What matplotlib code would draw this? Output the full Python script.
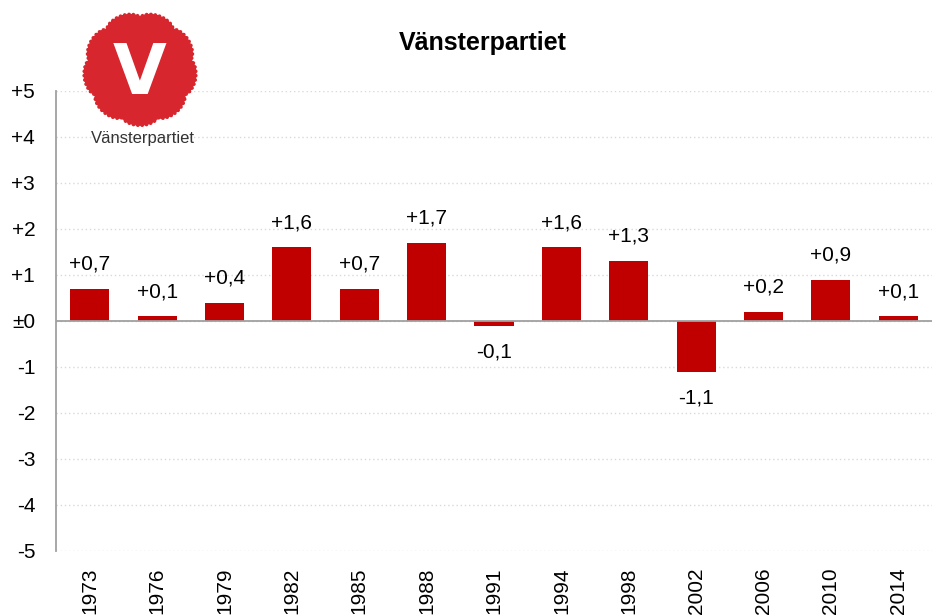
import matplotlib.pyplot as plt
import numpy as np
from matplotlib.patches import Polygon

plt.rcParams['font.family'] = ['Liberation Sans', 'DejaVu Sans']

# Data
years = ['1973', '1976', '1979', '1982', '1985', '1988', '1991',
         '1994', '1998', '2002', '2006', '2010', '2014']
change = [0.7, 0.1, 0.4, 1.6, 0.7, 1.7, -0.1, 1.6, 1.3, -1.1, 0.2, 0.9, 0.1]
yticks = [5, 4, 3, 2, 1, 0, -1, -2, -3, -4, -5]
ytick_labels = ['+5', '+4', '+3', '+2', '+1', '±0', '-1', '-2', '-3', '-4', '-5']

W, H = 932, 615
fig = plt.figure(figsize=(W / 100, H / 100), dpi=100)
ax = fig.add_axes([56 / W, 1 - 551 / H, 1 - 56 / W, 460 / H])

x = np.arange(len(years))
ax.bar(x, change, width=0.58, color='#C00000', zorder=3)

for xi, v in zip(x, change):
    label = ('+' if v >= 0 else '') + f'{v:.1f}'.replace('.', ',')
    if v >= 0:
        ax.annotate(label, (xi, v), xytext=(0, 11), textcoords='offset points',
                    ha='center', va='bottom', fontsize=15)
    else:
        ax.annotate(label, (xi, v), xytext=(0, -12), textcoords='offset points',
                    ha='center', va='top', fontsize=15)

ax.set_xlim(-0.5, len(years) - 0.5)
ax.set_ylim(-5, 5)
ax.set_yticks(yticks)
ax.set_yticklabels(ytick_labels, fontsize=15)
ax.set_xticks(x)
ax.set_xticklabels(years, rotation=90, fontsize=15)
ax.tick_params(axis='both', length=0)
ax.tick_params(axis='y', pad=15)
ax.tick_params(axis='x', pad=12)

ax.grid(axis='y', linestyle=(0, (1, 2)), color='#D9D9D9', linewidth=1, zorder=0)
ax.axhline(0, color='#A0A0A0', linewidth=1.3, zorder=4)
for s in ['top', 'right', 'bottom']:
    ax.spines[s].set_visible(False)
ax.spines['left'].set_color('#A0A0A0')
ax.spines['left'].set_linewidth(1.3)

fig.text(483 / W, 1 - 43 / H, 'Vänsterpartiet', ha='center', va='center',
         fontsize=18, fontweight='bold')

# Logo
lax = fig.add_axes([82 / W, 1 - 127 / H, 116 / W, 116 / H])
lax.set_xlim(-1.0, 1.0)
lax.set_ylim(-1.0, 1.0)
lax.set_aspect('equal')
lax.axis('off')
theta = np.linspace(0, 2 * np.pi, 600)
r = 0.86 + 0.09 * np.abs(np.sin(4.5 * theta)) ** 0.5 + 0.04 * np.abs(np.sin(40 * theta))
lax.add_patch(Polygon(np.column_stack([r * np.sin(theta), r * np.cos(theta)]),
                      closed=True, color='#D7262E'))
lax.text(0, -0.1, 'V', ha='center', va='center', color='white',
         fontsize=50, fontweight='bold', family='DejaVu Sans')
fig.text(143 / W, 1 - 138 / H, 'Vänsterpartiet', ha='center', va='center',
         fontsize=12, color='#333333')

fig.savefig('out.png', dpi=100)
